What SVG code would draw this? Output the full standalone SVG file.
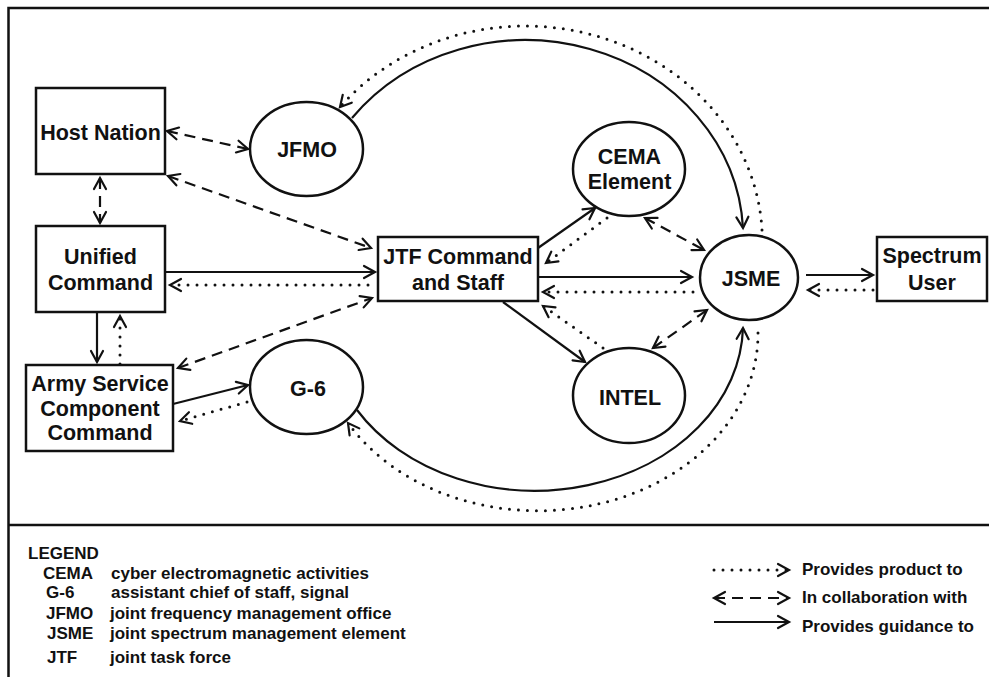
<svg xmlns="http://www.w3.org/2000/svg" width="989" height="677" viewBox="0 0 989 677">
  <defs>
    <style>
      .frame { fill: none; stroke: #111; stroke-width: 2.5; }
      .node { fill: #fff; stroke: #111; stroke-width: 2.5; }
      .label { font-family: "Liberation Sans", Arial, sans-serif; font-weight: bold; font-size: 21.5px; fill: #111; text-anchor: middle; }
      .legend { font-family: "Liberation Sans", Arial, sans-serif; font-weight: bold; font-size: 17px; fill: #111; }
      .solid { fill: none; stroke: #111; stroke-width: 2.2; }
      .dashed { fill: none; stroke: #111; stroke-width: 2.2; stroke-dasharray: 11 7; }
      .dotted { fill: none; stroke: #111; stroke-width: 3; stroke-linecap: round; stroke-dasharray: 0 9; }
      .head { fill: none; stroke: #111; stroke-width: 2.2; stroke-linecap: round; stroke-linejoin: miter; }
    </style>
    <!-- open chevron arrowhead; tip sits on the path end -->
    <marker id="arrow" markerUnits="userSpaceOnUse" viewBox="-14 -8 16 16" markerWidth="16" markerHeight="16" refX="0" refY="0" orient="auto-start-reverse" overflow="visible">
      <path class="head" d="M-11,-6 L0,0 L-11,6"/>
    </marker>
  </defs>

  <rect width="989" height="677" fill="#fff"/>

  <!-- frame and legend divider -->
  <g id="frame">
    <path class="frame" d="M989,8 L8.5,8 L8.5,677"/>
    <path class="frame" d="M8.5,525 L989,525"/>
  </g>

  <!-- connectors -->
  <g id="connectors">
    <!-- collaboration (dashed, two-way) -->
    <path class="dashed" d="M167,131 L248,149" marker-start="url(#arrow)" marker-end="url(#arrow)"/>
    <path class="dashed" d="M168,176 L371,248" marker-start="url(#arrow)" marker-end="url(#arrow)"/>
    <path class="dashed" d="M100,178 L100,223" marker-start="url(#arrow)" marker-end="url(#arrow)"/>
    <path class="dashed" d="M178,368 L372,298" marker-start="url(#arrow)" marker-end="url(#arrow)"/>
    <path class="dashed" d="M645,218 L704,250" marker-start="url(#arrow)" marker-end="url(#arrow)"/>
    <path class="dashed" d="M653,348 L707,310" marker-start="url(#arrow)" marker-end="url(#arrow)"/>

    <!-- guidance (solid) -->
    <path class="solid" d="M165,272 L375,272" marker-end="url(#arrow)"/>
    <path class="solid" d="M97,312 L97,362" marker-end="url(#arrow)"/>
    <path class="solid" d="M173,404 L248,385" marker-end="url(#arrow)"/>
    <path class="solid" d="M352,118 A218,198 0 0,1 743,228" marker-end="url(#arrow)"/>
    <path class="solid" d="M357,410 A208,167 0 0,0 743,328" marker-end="url(#arrow)"/>
    <path class="solid" d="M538,248 L595,208" marker-end="url(#arrow)"/>
    <path class="solid" d="M538,277 L692,277" marker-end="url(#arrow)"/>
    <path class="solid" d="M503,302 L585,362" marker-end="url(#arrow)"/>
    <path class="solid" d="M806,275 L873,275" marker-end="url(#arrow)"/>

    <!-- product (dotted) -->
    <path class="dotted" d="M368,285 L170,285" marker-end="url(#arrow)"/>
    <path class="dotted" d="M120,364 L120,316" marker-end="url(#arrow)"/>
    <path class="dotted" d="M247,402 L180,421" marker-end="url(#arrow)"/>
    <path class="dotted" d="M762,230 A237,215 0 0,0 340,107" marker-end="url(#arrow)"/>
    <path class="dotted" d="M758,333 A220,177 0 0,1 348,423" marker-end="url(#arrow)"/>
    <path class="dotted" d="M607,218 L546,263" marker-end="url(#arrow)"/>
    <path class="dotted" d="M693,292 L543,292" marker-end="url(#arrow)"/>
    <path class="dotted" d="M603,348 L543,306" marker-end="url(#arrow)"/>
    <path class="dotted" d="M873,290 L808,290" marker-end="url(#arrow)"/>
  </g>

  <!-- nodes -->
  <g id="host-nation">
    <rect class="node" x="36" y="88" width="129" height="86"/>
    <text class="label" x="100.5" y="140">Host Nation</text>
  </g>
  <g id="jfmo">
    <ellipse class="node" cx="306.5" cy="149" rx="56.5" ry="47"/>
    <text class="label" x="307" y="157">JFMO</text>
  </g>
  <g id="unified-command">
    <rect class="node" x="36" y="226" width="129" height="86"/>
    <text class="label" x="100.5" y="264">Unified</text>
    <text class="label" x="100.5" y="290">Command</text>
  </g>
  <g id="army-service-component-command">
    <rect class="node" x="26" y="365" width="147" height="86"/>
    <text class="label" x="100" y="391">Army Service</text>
    <text class="label" x="100" y="416">Component</text>
    <text class="label" x="100" y="440">Command</text>
  </g>
  <g id="g6">
    <ellipse class="node" cx="306.5" cy="387" rx="56.5" ry="47"/>
    <text class="label" x="308" y="396">G-6</text>
  </g>
  <g id="jtf-command-and-staff">
    <rect class="node" x="378" y="237" width="160" height="64"/>
    <text class="label" x="458" y="264">JTF Command</text>
    <text class="label" x="458" y="290">and Staff</text>
  </g>
  <g id="cema-element">
    <ellipse class="node" cx="629" cy="169" rx="56" ry="47"/>
    <text class="label" x="629.5" y="164">CEMA</text>
    <text class="label" x="629.5" y="189">Element</text>
  </g>
  <g id="jsme">
    <ellipse class="node" cx="749" cy="277.5" rx="49" ry="42.5"/>
    <text class="label" x="751" y="286">JSME</text>
  </g>
  <g id="intel">
    <ellipse class="node" cx="629" cy="395.5" rx="56" ry="47.5"/>
    <text class="label" x="630" y="405">INTEL</text>
  </g>
  <g id="spectrum-user">
    <rect class="node" x="877" y="237" width="110" height="64"/>
    <text class="label" x="932" y="263">Spectrum</text>
    <text class="label" x="932" y="290">User</text>
  </g>

  <!-- legend: abbreviations -->
  <g id="legend-abbreviations">
    <text class="legend" x="28" y="559">LEGEND</text>
    <text class="legend" x="43" y="579">CEMA</text>
    <text class="legend" x="111" y="579">cyber electromagnetic activities</text>
    <text class="legend" x="46" y="598">G-6</text>
    <text class="legend" x="111" y="598">assistant chief of staff, signal</text>
    <text class="legend" x="46" y="619">JFMO</text>
    <text class="legend" x="110" y="619">joint frequency management office</text>
    <text class="legend" x="47" y="639">JSME</text>
    <text class="legend" x="110" y="639">joint spectrum management element</text>
    <text class="legend" x="47" y="663">JTF</text>
    <text class="legend" x="110" y="663">joint task force</text>
  </g>

  <!-- legend: line styles -->
  <g id="legend-lines">
    <path class="dotted" d="M714,570 L789,570" marker-end="url(#arrow)"/>
    <text class="legend" x="802" y="575">Provides product to</text>
    <path class="dashed" d="M714,598 L789,598" marker-start="url(#arrow)" marker-end="url(#arrow)"/>
    <text class="legend" x="802" y="603">In collaboration with</text>
    <path class="solid" d="M714,622 L789,622" marker-end="url(#arrow)"/>
    <text class="legend" x="802" y="632">Provides guidance to</text>
  </g>
</svg>
